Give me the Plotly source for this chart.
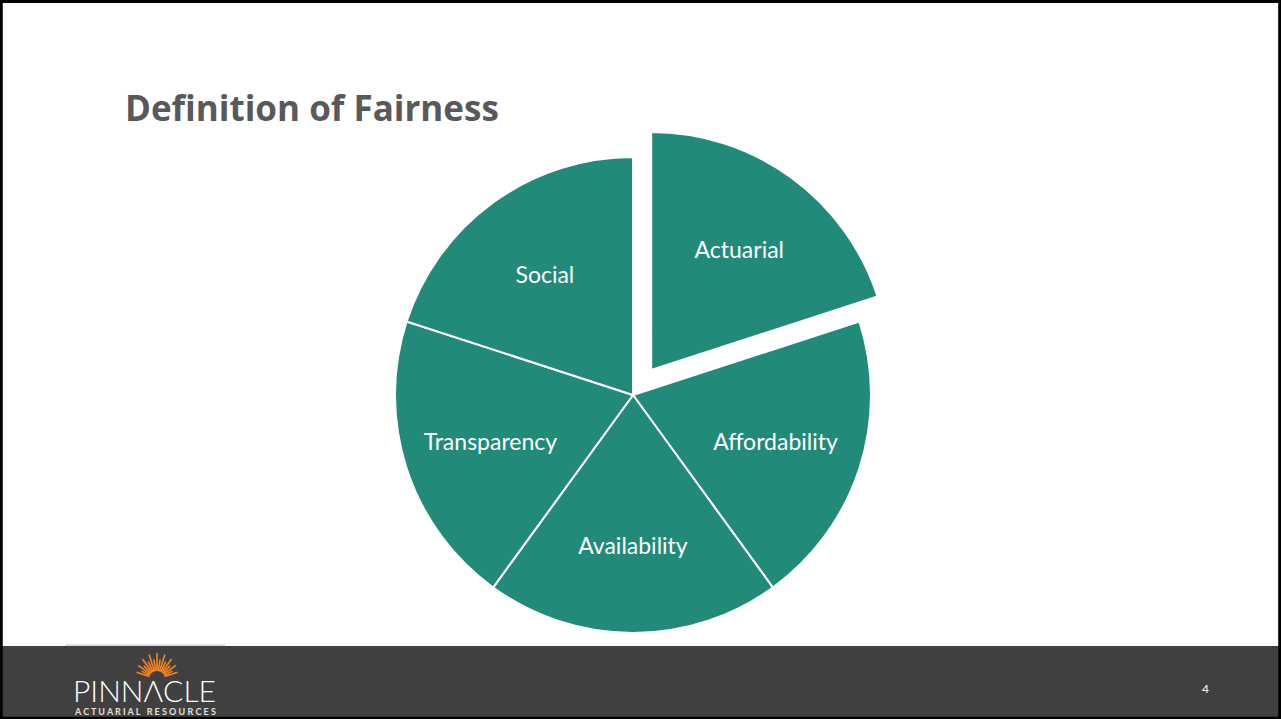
import math
import plotly.graph_objects as go

W, H = 1281, 719

categories = ["Actuarial", "Affordability", "Availability", "Transparency", "Social"]
values = [1, 1, 1, 1, 1]
pulls = [0.13, 0, 0, 0, 0]

title_text = "Definition of Fairness"
page_number = "4"

TEAL = "#228a79"

fig = go.Figure()

# pie placement (square domain in pixels)
cx, cy = 633, 395
r = 238
half = r * (1 + max(pulls))
dom_x = [(cx - half) / W, (cx + half) / W]
dom_y = [1 - (cy + half) / H, 1 - (cy - half) / H]

fig.add_trace(go.Pie(
    labels=categories,
    values=values,
    pull=pulls,
    sort=False,
    direction="clockwise",
    rotation=0,
    marker=dict(colors=[TEAL] * len(categories), line=dict(color="white", width=2)),
    textinfo="label",
    textposition="inside",
    insidetextorientation="horizontal",
    textfont=dict(family="Lato, Open Sans, sans-serif", size=23, color="white"),
    hoverinfo="skip",
    showlegend=False,
    domain=dict(x=dom_x, y=dom_y),
))

shapes = []
# footer bar
shapes.append(dict(type="rect", xref="paper", yref="paper", x0=0, x1=1,
                   y0=0, y1=1 - 646 / H, fillcolor="#404040", line=dict(width=0), layer="below"))
# thin light line above logo
shapes.append(dict(type="line", xref="paper", yref="paper", x0=65 / W, x1=225 / W,
                   y0=1 - 645 / H, y1=1 - 645 / H, line=dict(color="#bfbfbf", width=1)))
# slide frame
shapes.append(dict(type="rect", xref="paper", yref="paper", x0=0.001, x1=0.999,
                   y0=0.001, y1=0.998, line=dict(color="black", width=3), fillcolor="rgba(0,0,0,0)"))
# logo sunburst rays
sx, sy = 157, 679
n = 17
for i in range(n):
    ang = math.radians(-72 + 144 * i / (n - 1))
    r0 = 8
    r1 = (26 if i % 2 == 0 else 20) * (0.75 + 0.25 * math.cos(ang))
    x0 = sx + r0 * math.sin(ang)
    y0 = sy - r0 * math.cos(ang)
    x1 = sx + r1 * math.sin(ang)
    y1 = sy - r1 * math.cos(ang)
    shapes.append(dict(type="line", xref="paper", yref="paper",
                       x0=x0 / W, x1=x1 / W, y0=1 - y0 / H, y1=1 - y1 / H,
                       line=dict(color="#f7861e", width=1.6)))

annotations = [
    dict(text="<b>" + title_text + "</b>", xref="paper", yref="paper",
         x=123 / W, y=1 - 107 / H, xanchor="left", yanchor="middle", showarrow=False,
         font=dict(family="Open Sans, sans-serif", size=35, color="#595959")),
    dict(text="PINNΛCLE", xref="paper", yref="paper",
         x=144 / W, y=1 - 690 / H, xanchor="center", yanchor="middle", showarrow=False,
         font=dict(family="Lato, sans-serif", size=30, color="white", weight=300)),
    dict(text="<b>A C T U A R I A L   R E S O U R C E S</b>", xref="paper", yref="paper",
         x=145 / W, y=1 - 711 / H, xanchor="center", yanchor="middle", showarrow=False,
         font=dict(family="Lato, sans-serif", size=9, color="#e0e0e0")),
    dict(text=page_number, xref="paper", yref="paper",
         x=1205 / W, y=1 - 688 / H, xanchor="center", yanchor="middle", showarrow=False,
         font=dict(family="Lato, sans-serif", size=12, color="white")),
]

fig.update_layout(
    width=W, height=H,
    margin=dict(l=0, r=0, t=0, b=0),
    paper_bgcolor="white",
    plot_bgcolor="white",
    shapes=shapes,
    annotations=annotations,
)

fig.write_html("out.html")
